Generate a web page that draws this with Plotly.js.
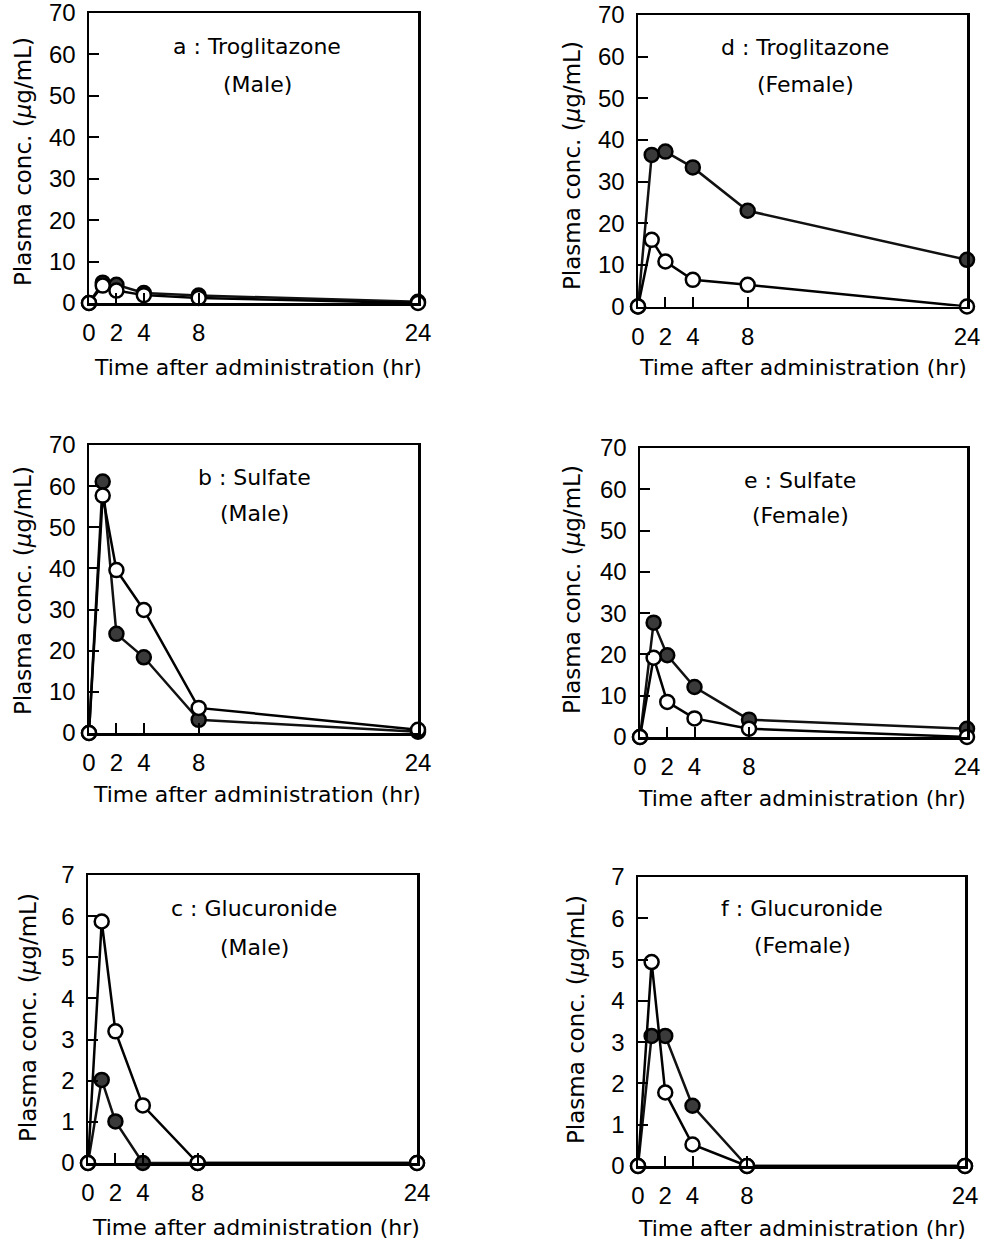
<!DOCTYPE html>
<html>
<head>
<meta charset="utf-8">
<script src="https://cdn.plot.ly/plotly-3.0.1.min.js"></script>
<style>html,body{margin:0;padding:0;background:#fff;}</style>
</head>
<body>
<div id="chart" style="width:984px;height:1245px;"></div>
<script>
// ---- data ----
const times = [0, 1, 2, 4, 8, 24];
const xTickVals = [0, 2, 4, 8, 24];
const xTickText = ["0", "2", "4", "8", "24"];

const panelNames = ["a : Troglitazone", "d : Troglitazone", "b : Sulfate", "e : Sulfate", "c : Glucuronide", "f : Glucuronide"];
const panelSex = ["(Male)", "(Female)", "(Male)", "(Female)", "(Male)", "(Female)"];

const aFilled = [0, 4.9, 4.4, 2.4, 1.8, 0.3];
const aOpen   = [0, 4.2, 3.0, 1.9, 1.2, 0];
const dFilled = [0, 36.4, 37.2, 33.4, 23.0, 11.2];
const dOpen   = [0, 16.0, 10.8, 6.4, 5.2, 0];
const bFilled = [0, 61.1, 24.1, 18.4, 3.2, 0.3];
const bOpen   = [0, 57.7, 39.6, 29.9, 6.1, 0.8];
const eFilled = [0, 27.7, 19.8, 12.1, 4.2, 2.0];
const eOpen   = [0, 19.2, 8.5, 4.5, 2.0, 0];
const cFilled = [0, 2.02, 1.01, 0, 0, 0];
const cOpen   = [0, 5.87, 3.2, 1.4, 0, 0];
const fFilled = [0, 3.15, 3.15, 1.46, 0, 0];
const fOpen   = [0, 4.94, 1.78, 0.52, 0, 0];

const yTicksBig = [0, 10, 20, 30, 40, 50, 60, 70];
const yTicksSmall = [0, 1, 2, 3, 4, 5, 6, 7];

const filledSeries = [aFilled, dFilled, bFilled, eFilled, cFilled, fFilled];
const openSeries = [aOpen, dOpen, bOpen, eOpen, cOpen, fOpen];

// ---- layout geometry (pixels) ----
const W = 984, H = 1245;
const boxes = [
  {l: 89, r: 418, t: 13, b: 303},
  {l: 638, r: 967, t: 15, b: 306.5},
  {l: 89, r: 418, t: 445, b: 733},
  {l: 640, r: 967, t: 448, b: 737},
  {l: 88, r: 417, t: 875, b: 1163},
  {l: 638, r: 965, t: 877, b: 1166}
];
const labelPos = [
  {cx: 257, l1: 47, l2: 85, xt: 258, xty: 367, yx: 23, yy: 162},
  {cx: 805, l1: 48, l2: 85, xt: 803, xty: 368, yx: 572, yy: 166},
  {cx: 254, l1: 477, l2: 513, xt: 257, xty: 795, yx: 23, yy: 591},
  {cx: 800, l1: 480, l2: 515, xt: 802, xty: 798, yx: 572, yy: 590},
  {cx: 254, l1: 908, l2: 947, xt: 256, xty: 1227, yx: 28, yy: 1018},
  {cx: 802, l1: 908, l2: 945, xt: 802, xty: 1228, yx: 576, yy: 1020}
];
const px = v => v / W;
const py = v => 1 - v / H;

const tickFont = {family: "Liberation Sans, Arial, sans-serif", size: 24, color: "#000"};
const textFont = {family: "DejaVu Sans, sans-serif", size: 22, color: "#000"};

const traces = [];
const layout = {
  width: W, height: H,
  margin: {l: 0, r: 0, t: 0, b: 0},
  paper_bgcolor: "#fff", plot_bgcolor: "#fff",
  showlegend: false,
  annotations: []
};

for (let i = 0; i < 6; i++) {
  const n = i + 1;
  const xa = n === 1 ? "x" : "x" + n;
  const ya = n === 1 ? "y" : "y" + n;
  const big = i < 4;
  const bx = boxes[i];
  traces.push({
    x: times, y: filledSeries[i], xaxis: xa, yaxis: ya,
    type: "scatter", mode: "lines+markers", cliponaxis: false,
    line: {color: "#111", width: 2.5},
    marker: {symbol: "circle", size: 14, color: "#3a3a3a", line: {color: "#000", width: 2.5}}
  });
  traces.push({
    x: times, y: openSeries[i], xaxis: xa, yaxis: ya,
    type: "scatter", mode: "lines+markers", cliponaxis: false,
    line: {color: "#000", width: 2.5},
    marker: {symbol: "circle", size: 14, color: "#fff", line: {color: "#000", width: 2.5}}
  });
  const common = {
    showline: true, mirror: true, linecolor: "#000", linewidth: 2.5,
    ticks: "inside", ticklen: 10, tickwidth: 2, tickcolor: "#000",
    showgrid: false, zeroline: false, fixedrange: true,
    tickfont: tickFont, ticklabeloverflow: "allow"
  };
  layout["xaxis" + (n === 1 ? "" : n)] = Object.assign({}, common, {
    domain: [px(bx.l), px(bx.r)], anchor: ya, range: [0, 24],
    tickmode: "array", tickvals: xTickVals, ticktext: xTickText,
    ticklabelstandoff: 7
  });
  layout["yaxis" + (n === 1 ? "" : n)] = Object.assign({}, common, {
    domain: [py(bx.b), py(bx.t)], anchor: xa,
    range: big ? [0, 70] : [0, 7],
    tickmode: "array", tickvals: big ? yTicksBig : yTicksSmall,
    ticklabelstandoff: 6
  });
  const lp = labelPos[i];
  layout.annotations.push(
    {text: panelNames[i], x: px(lp.cx), y: py(lp.l1), xref: "paper", yref: "paper", xanchor: "center", yanchor: "middle", showarrow: false, font: textFont},
    {text: panelSex[i], x: px(lp.cx), y: py(lp.l2), xref: "paper", yref: "paper", xanchor: "center", yanchor: "middle", showarrow: false, font: textFont},
    {text: "Time after administration (hr)", x: px(lp.xt), y: py(lp.xty), xref: "paper", yref: "paper", xanchor: "center", yanchor: "middle", showarrow: false, font: textFont},
    {text: "Plasma conc. (<i>μ</i>g/mL)", x: px(lp.yx), y: py(lp.yy), xref: "paper", yref: "paper", xanchor: "center", yanchor: "middle", showarrow: false, textangle: -90, font: Object.assign({}, textFont, {size: 23})}
  );
}

Plotly.newPlot("chart", traces, layout, {staticPlot: true, displayModeBar: false});
</script>
</body>
</html>
